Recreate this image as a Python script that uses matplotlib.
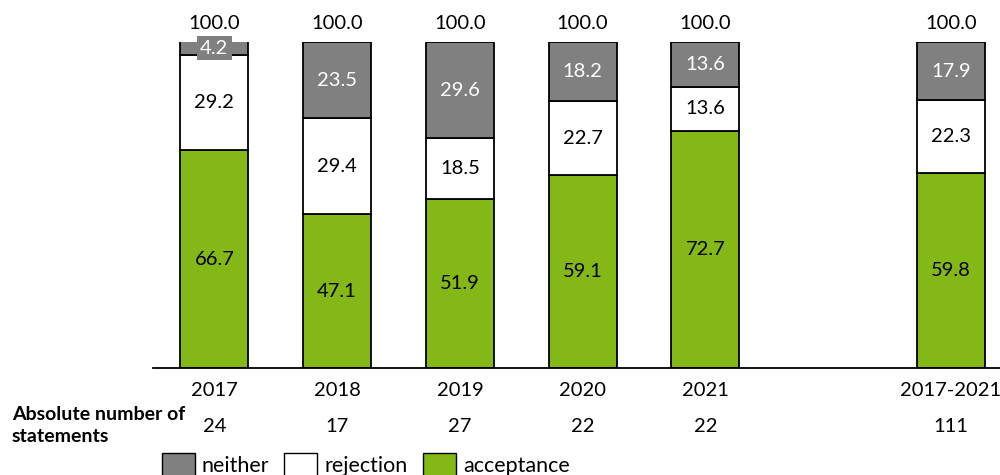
import numpy as np
import matplotlib.pyplot as plt
from matplotlib.patches import Patch

plt.rcParams['font.family'] = ['Lato', 'DejaVu Sans']

# shares in percent per period
categories = ['2017', '2018', '2019', '2020', '2021', '2017-2021']
acceptance = [66.7, 47.1, 51.9, 59.1, 72.7, 59.8]
rejection = [29.2, 29.4, 18.5, 22.7, 13.6, 22.3]
neither = [4.2, 23.5, 29.6, 18.2, 13.6, 17.9]
totals = [100.0, 100.0, 100.0, 100.0, 100.0, 100.0]
counts = [24, 17, 27, 22, 22, 111]

GREEN = '#84b817'
GRAY = '#808080'
FS = 14.5

# leave one empty slot before the overall bar
pos = np.array([0, 1, 2, 3, 4, 6])
w = 0.555

fig = plt.figure(figsize=(10, 4.75), dpi=100)
ax = fig.add_axes([0.153, 0.225, 0.847, 0.687])

acc = np.array(acceptance)
rej = np.array(rejection)
nei = np.array(neither)

ax.bar(pos, acc, w, color=GREEN, edgecolor='black', linewidth=1.3)
ax.bar(pos, rej, w, bottom=acc, color='white', edgecolor='black', linewidth=1.3)
ax.bar(pos, nei, w, bottom=acc + rej, color=GRAY, edgecolor='black', linewidth=1.3)

for i, x in enumerate(pos):
    ax.text(x, acc[i] / 2, f'{acc[i]:.1f}', ha='center', va='center', fontsize=FS)
    ax.text(x, acc[i] + rej[i] / 2, f'{rej[i]:.1f}', ha='center', va='center', fontsize=FS)
    box = None
    if nei[i] < 6:
        # small segment: label gets its own grey box
        box = dict(facecolor=GRAY, edgecolor='none', boxstyle='square,pad=0.18')
    ax.text(x, acc[i] + rej[i] + nei[i] / 2, f'{nei[i]:.1f}', ha='center', va='center',
            fontsize=FS, color='white', bbox=box)
    ax.text(x, 103, f'{totals[i]:.1f}', ha='center', va='bottom', fontsize=FS, clip_on=False)

ax.set_xlim(-0.5, 6.4)
ax.set_ylim(0, 100)
for s in ['top', 'right', 'left']:
    ax.spines[s].set_visible(False)
ax.spines['bottom'].set_linewidth(1.3)
ax.set_yticks([])
ax.set_xticks(pos)
ax.set_xticklabels(categories, fontsize=FS)
ax.tick_params(axis='x', length=0, pad=10)

# counts row under the years
for i, x in enumerate(pos):
    ax.annotate(str(counts[i]), xy=(x, 0), xycoords='data', xytext=(0, -42),
                textcoords='offset points', ha='center', va='center', fontsize=FS,
                annotation_clip=False)
fig.text(0.012, 0.105, 'Absolute number of\nstatements', fontsize=14, fontweight='bold',
         ha='left', va='center', linespacing=1.35)

handles = [Patch(facecolor=GRAY, edgecolor='black', label='neither'),
           Patch(facecolor='white', edgecolor='black', label='rejection'),
           Patch(facecolor=GREEN, edgecolor='black', label='acceptance')]
fig.legend(handles=handles, loc='lower left', bbox_to_anchor=(0.153, -0.02), ncol=3,
           frameon=False, fontsize=15.5, handlelength=1.53, handleheight=1.25,
           handletextpad=0.33, columnspacing=0.7, borderaxespad=0)

fig.savefig('out.png', dpi=100)
